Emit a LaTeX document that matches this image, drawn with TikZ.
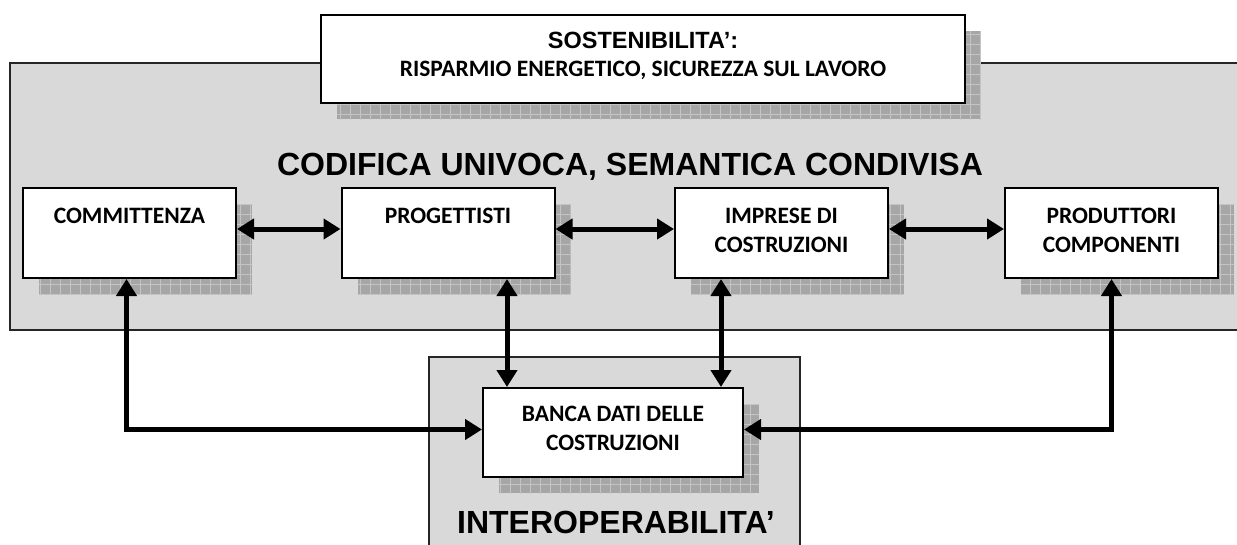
\documentclass[tikz,border=0pt]{standalone}
\usepackage{fontspec}
\setmainfont{Liberation Sans}
\newfontfamily\calibri{Carlito}
\usetikzlibrary{arrows.meta,shadows,patterns}

\definecolor{panelgray}{HTML}{D9D9D9}
\definecolor{shadowgray}{HTML}{A6A6A6}
\definecolor{gridgray}{HTML}{C4C4C4}

\pgfdeclarepatternformonly{shadowgrid}{\pgfqpoint{-1pt}{-1pt}}{\pgfqpoint{11pt}{11pt}}{\pgfqpoint{10pt}{10pt}}{%
  \pgfsetlinewidth{0.8pt}%
  \pgfpathmoveto{\pgfqpoint{0pt}{0pt}}\pgfpathlineto{\pgfqpoint{10pt}{0pt}}%
  \pgfpathmoveto{\pgfqpoint{0pt}{0pt}}\pgfpathlineto{\pgfqpoint{0pt}{10pt}}%
  \pgfusepath{stroke}}

\tikzset{
  boxshadow/.style={
    general shadow={shadow xshift=16pt, shadow yshift=-16pt, fill=shadowgray},
    general shadow={shadow xshift=16pt, shadow yshift=-16pt, pattern=shadowgrid, pattern color=gridgray}},
  panel/.style={draw=black!85, line width=1.5pt, fill=panelgray},
  entity/.style={draw, line width=2pt, fill=white, minimum width=213pt, minimum height=90pt, inner sep=0pt, boxshadow},
  boxtext/.style={font=\calibri\fontsize{23.5}{29}\selectfont\bfseries, align=center, anchor=base, inner sep=0pt},
  bigtext/.style={font=\fontsize{32}{38}\selectfont\bfseries, anchor=base, inner sep=0pt},
  conn/.style={line width=5pt, {Triangle[length=17pt,width=20pt]}-{Triangle[length=17pt,width=20pt]}}
}

\begin{document}
\begin{tikzpicture}[x=1pt, y=-1pt]
    \useasboundingbox (0,0) rectangle (1237,544);

    % pannelli grigi
    \draw[panel] (10,63) rectangle (1250,330);
    \draw[panel] (429,357) rectangle (800,560);

    \node[entity, minimum width=644pt, minimum height=88pt, line width=1.6pt] (sost) at (643,59) {};
    \node[bigtext, font=\fontsize{23.5}{28}\selectfont\bfseries] (sosttitle) at (643,48) {SOSTENIBILITA':};
    \node[boxtext] (sostsub) at (643,76) {RISPARMIO ENERGETICO, SICUREZZA SUL LAVORO};

    \node[bigtext] (codifica) at (630,175) {CODIFICA UNIVOCA, SEMANTICA CONDIVISA};
    \node[bigtext] (interop) at (616,533) {INTEROPERABILITA'};

    \node[entity] (comm) at (129.5,233) {};
    \node[entity] (prog) at (448,233) {};
    \node[entity] (impr) at (781.5,233) {};
    \node[entity] (prod) at (1111.5,233) {};
    \node[entity, minimum width=260pt, minimum height=89pt] (banca) at (613,432.5) {};

    % base = ultima riga
    \node[boxtext] (tcomm) at ([yshift=-36pt]comm.north) {COMMITTENZA};
    \node[boxtext] (tprog) at ([yshift=-36pt]prog.north) {PROGETTISTI};
    \node[boxtext] (timpr) at ([yshift=-65pt]impr.north) {IMPRESE DI\\COSTRUZIONI};
    \node[boxtext] (tprod) at ([yshift=-65pt]prod.north) {PRODUTTORI\\COMPONENTI};
    \node[boxtext] (tbanca) at ([yshift=-63pt]banca.north) {BANCA DATI DELLE\\COSTRUZIONI};

    % collegamenti
    \draw[conn] ([yshift=4pt]comm.east) -- ([yshift=4pt]prog.west);
    \draw[conn] ([yshift=4pt]prog.east) -- ([yshift=4pt]impr.west);
    \draw[conn] ([yshift=4pt]impr.east) -- ([yshift=4pt]prod.west);
    \coordinate (bancaL) at ([xshift=-106pt]banca.north);
    \coordinate (bancaR) at ([xshift=108pt]banca.north);
    \draw[conn] (prog.south -| bancaL) -- (bancaL);
    \draw[conn] (impr.south -| bancaR) -- (bancaR);
    \draw[conn] ([xshift=-3pt]comm.south) |- ([yshift=3pt]banca.west);
    \draw[conn] (prod.south) |- ([yshift=3pt]banca.east);
\end{tikzpicture}
\end{document}
